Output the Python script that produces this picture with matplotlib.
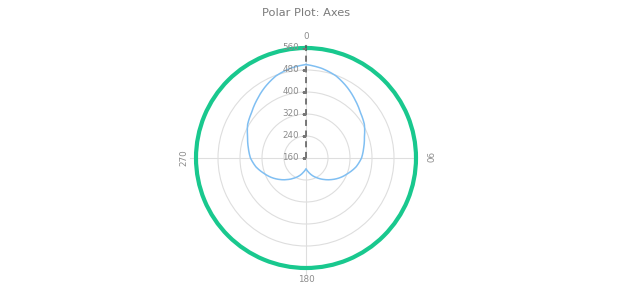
import numpy as np
import matplotlib
matplotlib.use('Agg')
import matplotlib.pyplot as plt
from matplotlib import transforms as mtransforms

# data (angle in degrees, value on the radial axis)
angles = [0, 10, 20, 30, 40, 50, 60, 70, 80, 90, 100, 110, 120, 130, 140, 150, 160, 170,
          180, 190, 200, 210, 220, 230, 240, 250, 260, 270, 280, 290, 300, 310, 320,
          330, 340, 350, 360]
values = [500, 491, 478, 458, 437, 418, 405, 386, 373, 362, 345, 323, 303, 282, 262, 244, 228, 212,
          199, 212, 228, 244, 262, 282, 303, 323, 345, 362, 373, 386, 405, 418, 437,
          458, 478, 491, 500]

r_ticks = [160, 240, 320, 400, 480, 560]
theta_ticks = [0, 90, 180, 270]
theta_labels = ['0', '90', '180', '270']

green = '#19c88e'
blue = '#80bff2'
grid_col = '#dedede'
text_col = '#8c8c8c'

plt.rcParams['font.family'] = ['DejaVu Sans']

fig = plt.figure(figsize=(6.2, 3.0), dpi=100)
fig.patch.set_facecolor('white')
fig.text(306 / 620, 1 - 13 / 300, 'Polar Plot: Axes', ha='center', va='center',
         fontsize=8.2, color='#7a7a7a')

ax = fig.add_axes([196 / 620, 32 / 300, 220 / 620, 220 / 300], projection='polar')
ax.set_theta_zero_location('N')
ax.set_theta_direction(-1)
ax.set_rlim(r_ticks[0], r_ticks[-1])

ax.set_rticks(r_ticks)
ax.set_yticklabels([])
ax.set_thetagrids(theta_ticks, theta_labels)
ax.tick_params(axis='x', labelrotation='auto', pad=1.5, size=0,
               labelsize=6.3, labelcolor=text_col)
ax.grid(True, color=grid_col, linewidth=0.8)

ax.spines['polar'].set_color(green)
ax.spines['polar'].set_linewidth(3)

# the data line (drawn as spiral segments between points)
line, = ax.plot(np.deg2rad(angles), values, color=blue, linewidth=1.1, zorder=3)
line.get_path()._interpolation_steps = 20

# radial axis along 0 degrees
ax.plot([0, 0], [r_ticks[0], r_ticks[-1] + 22], color='#555555', linestyle=(0, (4, 3)),
        linewidth=1.1, zorder=4, clip_on=False)
ax.plot([0] * len(r_ticks), r_ticks, linestyle='none', marker=0, markersize=3,
        markeredgewidth=0.8, color='#777777', zorder=4)
lab_trans = mtransforms.offset_copy(ax.transData, fig=fig, x=-7, y=0, units='dots')
for r in r_ticks:
    ax.text(0, r, str(r), transform=lab_trans, ha='right', va='center',
            fontsize=6.3, color=text_col, zorder=5)

# short outer ticks
for t in [180, 270]:
    ax.plot([np.deg2rad(t)] * 2, [r_ticks[-1], r_ticks[-1] + 22], color=grid_col,
            linewidth=0.8, clip_on=False, zorder=1)

fig.savefig('out.png', dpi=100, facecolor='white')
